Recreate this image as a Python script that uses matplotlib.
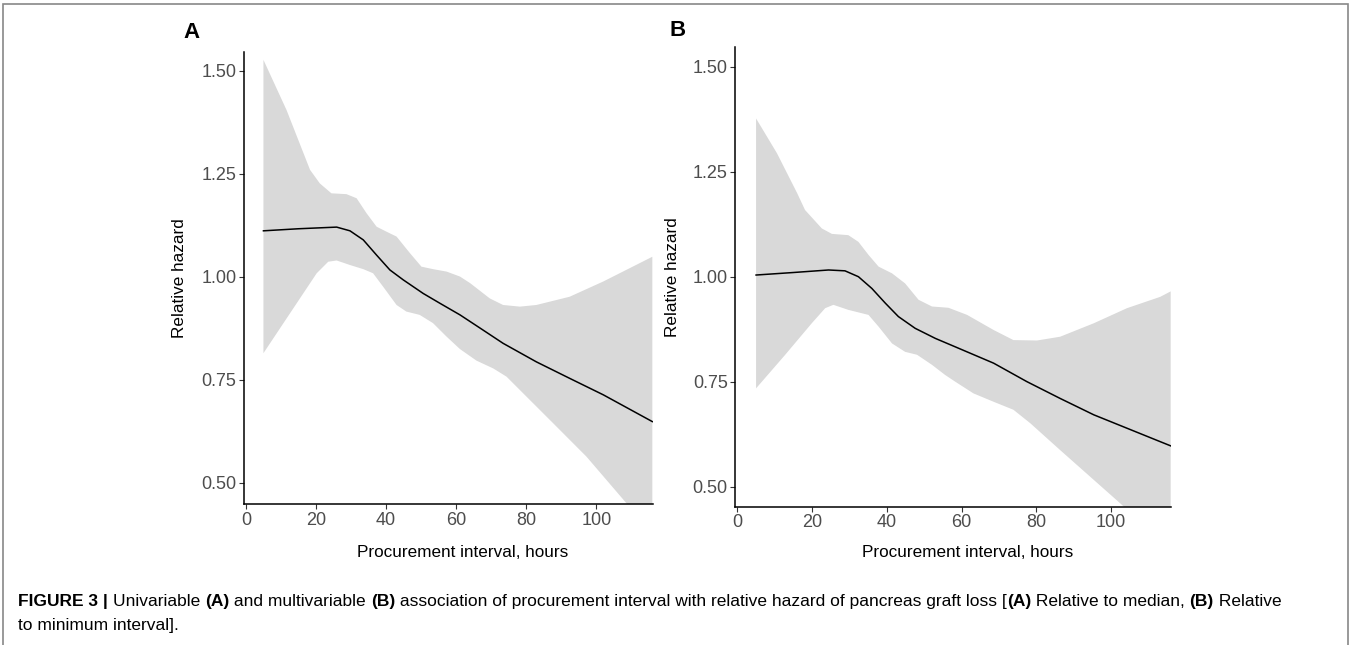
import numpy as np
import matplotlib
matplotlib.use("Agg")
import matplotlib.pyplot as plt
from matplotlib.patches import Rectangle

plt.rcParams['font.family'] = ['Liberation Sans', 'DejaVu Sans']

# 数据：从图上读出来的点
# A 图 (univariable, relative to median)
a_line_x = [5, 15, 25.9, 29.7, 33.5, 37.3, 41.1, 44.9, 50.6, 55.4, 61.1, 67, 73.4, 82.9, 92.4, 102, 116]
a_line_y = [1.112, 1.117, 1.121, 1.112, 1.090, 1.053, 1.017, 0.993, 0.960, 0.936, 0.908, 0.875, 0.839, 0.794, 0.754, 0.714, 0.649]
a_up_x = [5, 11.6, 18.3, 21.1, 24.4, 28.7, 31.6, 34.4, 37.3, 40.1, 43, 46.8, 50.1, 53.4, 57.3, 61.1, 64, 69.6, 73.4, 78.2, 82.9, 92.4, 102, 116]
a_up_y = [1.527, 1.405, 1.260, 1.227, 1.203, 1.201, 1.191, 1.155, 1.122, 1.110, 1.098, 1.058, 1.025, 1.019, 1.013, 1.001, 0.985, 0.948, 0.932, 0.928, 0.932, 0.952, 0.989, 1.049]
a_lo_x = [5, 12.6, 20.2, 23.5, 25.9, 29.7, 33.5, 36.3, 39.2, 43, 45.8, 49.6, 53.4, 57.3, 61.1, 65.8, 70.6, 74.4, 79.1, 87.7, 97.2, 108.6, 116]
a_lo_y = [0.815, 0.912, 1.009, 1.037, 1.040, 1.029, 1.019, 1.009, 0.976, 0.932, 0.916, 0.908, 0.888, 0.855, 0.825, 0.797, 0.778, 0.758, 0.718, 0.645, 0.564, 0.451, 0.381]

# B 图 (multivariable, relative to minimum)
b_line_x = [5, 15, 24.4, 28.8, 32.4, 36, 39.6, 43.1, 47.6, 53, 58.3, 68.6, 77.5, 86.4, 95.4, 104.3, 113.2, 116]
b_line_y = [1.004, 1.010, 1.016, 1.014, 1.000, 0.972, 0.937, 0.905, 0.877, 0.853, 0.833, 0.794, 0.750, 0.710, 0.671, 0.639, 0.607, 0.597]
b_up_x = [5, 10.6, 16, 18.1, 22.6, 25.3, 29.7, 32.4, 35.1, 37.8, 41.4, 44.9, 48.5, 52.1, 56.5, 61.5, 68.6, 73.9, 80.2, 86.4, 95.4, 104.3, 113.2, 116]
b_up_y = [1.377, 1.294, 1.199, 1.159, 1.115, 1.102, 1.099, 1.083, 1.052, 1.024, 1.008, 0.984, 0.945, 0.929, 0.926, 0.909, 0.873, 0.849, 0.848, 0.857, 0.889, 0.925, 0.952, 0.965]
b_lo_x = [5, 12.8, 19.9, 23.5, 25.7, 29.7, 35.1, 37.8, 41.4, 44.9, 48.1, 52.1, 55.6, 58.3, 63.2, 68.6, 73.9, 78.4, 86.4, 95.4, 102.5, 116]
b_lo_y = [0.734, 0.814, 0.889, 0.925, 0.933, 0.921, 0.909, 0.881, 0.841, 0.821, 0.814, 0.790, 0.766, 0.750, 0.722, 0.702, 0.683, 0.651, 0.587, 0.516, 0.46, 0.35]

x_ticks = [0, 20, 40, 60, 80, 100]
y_ticks = [0.50, 0.75, 1.00, 1.25, 1.50]
y_tick_labels = ["0.50", "0.75", "1.00", "1.25", "1.50"]

# 图注分段（文字, 字重）
caption_line1 = [("FIGURE 3 | ", 'bold'), ("Univariable ", 'normal'), ("(A)", 'bold'),
                 (" and multivariable ", 'normal'), ("(B)", 'bold'),
                 (" association of procurement interval with relative hazard of pancreas graft loss [", 'normal'),
                 ("(A)", 'bold'), (" Relative to median, ", 'normal'), ("(B)", 'bold'), (" Relative", 'normal')]
caption_line2 = "to minimum interval]."


def draw_panel(ax, lx, ly, ux, uy, dx, dy, ylim):
    # 置信带：上边界 + 反向的下边界，拼成一个多边形
    poly_x = list(ux) + list(dx)[::-1]
    poly_y = list(uy) + list(dy)[::-1]
    ax.fill(poly_x, poly_y, color='#d9d9d9', lw=0, zorder=1)
    ax.plot(lx, ly, color='black', lw=1.1, zorder=2)

    ax.set_xlim(-0.55, 116.1)
    ax.set_ylim(*ylim)
    ax.set_xticks(x_ticks)
    ax.set_yticks(y_ticks)
    ax.set_yticklabels(y_tick_labels)
    for s in ['top', 'right']:
        ax.spines[s].set_visible(False)
    for s in ['left', 'bottom']:
        ax.spines[s].set_linewidth(1.1)
        ax.spines[s].set_color('black')
    ax.tick_params(length=3.5, width=0.8, color='#333333', labelcolor='#4d4d4d',
                   labelsize=13, pad=2)
    ax.set_xlabel('Procurement interval, hours', fontsize=12.3)
    ax.set_ylabel('Relative hazard', fontsize=12.3)


fig = plt.figure(figsize=(13.51, 6.45), dpi=100)

axA = fig.add_axes([0.1806, 0.2186, 0.3025, 0.7008])
draw_panel(axA, a_line_x, a_line_y, a_up_x, a_up_y, a_lo_x, a_lo_y, (0.449, 1.546))
axA.xaxis.set_label_coords(0.535, -0.091)
axA.yaxis.set_label_coords(-0.139, 0.5)

axB = fig.add_axes([0.5443, 0.2144, 0.3225, 0.7132])
draw_panel(axB, b_line_x, b_line_y, b_up_x, b_up_y, b_lo_x, b_lo_y, (0.452, 1.548))
axB.xaxis.set_label_coords(0.534, -0.083)
axB.yaxis.set_label_coords(-0.127, 0.5)

# 面板标签
fig.text(192 / 1351, 1 - 33 / 645, 'A', fontsize=16, fontweight='bold', ha='center', va='center')
fig.text(678 / 1351, 1 - 31 / 645, 'B', fontsize=16, fontweight='bold', ha='center', va='center')

# 外框
fig.patches.append(Rectangle((3 / 1351, -0.02), 1345 / 1351, 1.02 - 4 / 645,
                             transform=fig.transFigure, fill=False,
                             edgecolor='#888888', lw=1.2))

# 图注，粗体和普通字体混排：逐段量宽度往右排
cap_size = 12.5
renderer = fig.canvas.get_renderer()
x_px = 18
y_fig = 1 - 606 / 645
for txt, w in caption_line1:
    t = fig.text(x_px / 1351, y_fig, txt, fontsize=cap_size, fontweight=w,
                 ha='left', va='baseline')
    x_px += t.get_window_extent(renderer).width
fig.text(18 / 1351, 1 - 630 / 645, caption_line2, fontsize=cap_size,
         ha='left', va='baseline')

plt.savefig('out.png', dpi=100)
